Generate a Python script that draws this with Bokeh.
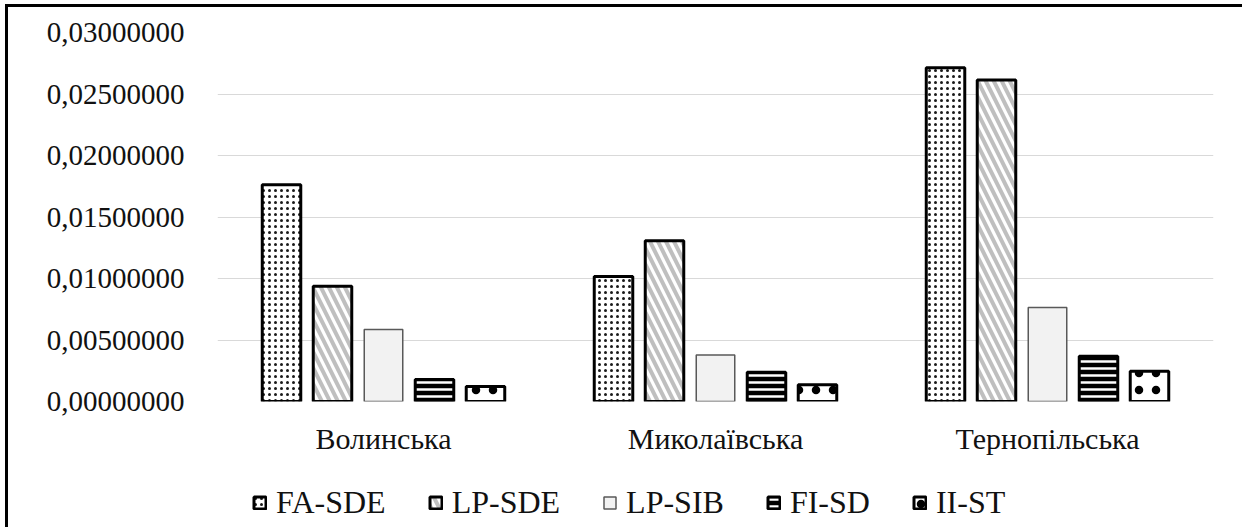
from bokeh.plotting import figure
from bokeh.layouts import column
from bokeh.models import (ColumnDataSource, FactorRange, Range1d, FixedTicker,
                          Legend, LegendItem, BoxAnnotation)
from bokeh.transform import dodge
from bokeh.embed import file_html
from bokeh.resources import INLINE

# Regions and the five indicator series
regions = ["Волинська", "Миколаївська", "Тернопільська"]
series_names = ["FA-SDE", "LP-SDE", "LP-SIB", "FI-SD", "II-ST"]
fa_sde = [0.01762, 0.01017, 0.02714]
lp_sde = [0.00936, 0.01307, 0.02614]
lp_sib = [0.00585, 0.00379, 0.00765]
fi_sd = [0.00178, 0.00237, 0.00367]
ii_st = [0.00121, 0.00137, 0.00245]

y_ticks = [0, 0.005, 0.01, 0.015, 0.02, 0.025, 0.03]
y_tick_labels = ["0,00000000", "0,00500000", "0,01000000", "0,01500000",
                 "0,02000000", "0,02500000", "0,03000000"]

source = ColumnDataSource(data={
    "region": regions,
    "FA-SDE": fa_sde,
    "LP-SDE": lp_sde,
    "LP-SIB": lp_sib,
    "FI-SD": fi_sd,
    "II-ST": ii_st,
})

SERIF = "Liberation Serif"
W = 1234

# Fill styles per series
styles = {
    "FA-SDE": dict(fill_color="white", hatch_pattern="dot",
                   hatch_color="#1a1a1a", hatch_scale=6, hatch_weight=2.8,
                   line_color="black", line_width=3),
    "LP-SDE": dict(fill_color="white", hatch_pattern="left_diagonal_line",
                   hatch_color="#bfbfbf", hatch_scale=16, hatch_weight=4,
                   line_color="black", line_width=3),
    "LP-SIB": dict(fill_color="#f2f2f2", line_color="#595959", line_width=1.5),
    "FI-SD": dict(fill_color="black", hatch_pattern="horizontal_line",
                  hatch_color="white", hatch_scale=7, hatch_weight=2.5,
                  line_color="black", line_width=3),
    "II-ST": dict(fill_color="white", hatch_pattern="dot",
                  hatch_color="black", hatch_scale=17, hatch_weight=4,
                  line_color="black", line_width=3),
}

step = 0.1536
bar_w = 0.116
offsets = [-2 * step, -step, 0, step, 2 * step]

# ---- main bar chart ----
p = figure(
    width=W, height=460,
    x_range=FactorRange(*regions),
    y_range=Range1d(0, 0.03),
    output_backend="svg",
    toolbar_location=None,
    min_border_left=209, min_border_right=29,
    min_border_top=25, min_border_bottom=66,
)
p.outline_line_color = None
p.background_fill_color = "white"
p.border_fill_color = "white"

for name, off in zip(series_names, offsets):
    p.vbar(x=dodge("region", off, range=p.x_range), top=name,
           width=bar_w, source=source, **styles[name])

p.yaxis.ticker = FixedTicker(ticks=y_ticks)
p.yaxis.major_label_overrides = dict(zip(y_ticks, y_tick_labels))
for ax in (p.xaxis, p.yaxis):
    ax.axis_line_color = None
    ax.major_tick_line_color = None
    ax.minor_tick_line_color = None
    ax.major_label_text_font = SERIF
    ax.major_label_text_color = "#111111"
p.yaxis.major_label_text_font_size = "29px"
p.xaxis.major_label_text_font_size = "30px"
p.yaxis.major_label_standoff = 27
p.xaxis.major_label_standoff = 14

p.xgrid.grid_line_color = None
p.ygrid.grid_line_color = "#d9d9d9"
p.ygrid.grid_line_width = 1

# ---- legend strip under the chart ----
lf = figure(
    width=W, height=60,
    x_range=FactorRange(*regions),
    y_range=Range1d(10, 11),
    output_backend="svg",
    toolbar_location=None,
    min_border=0,
)
lf.axis.visible = False
lf.grid.visible = False
lf.outline_line_color = None
lf.background_fill_color = "white"
lf.border_fill_color = "white"

# same bar styles, used only as legend keys (kept out of view)
key_renderers = []
for name, off in zip(series_names, offsets):
    r = lf.vbar(x=dodge("region", off, range=lf.x_range), top=name,
                width=bar_w, source=source, **styles[name])
    key_renderers.append(r)

# plain white backdrop for the legend row
lf.add_layout(BoxAnnotation(fill_color="white", fill_alpha=1.0, line_color=None))

legend = Legend(
    items=[LegendItem(label=n, renderers=[r]) for n, r in zip(series_names, key_renderers)],
    orientation="horizontal", location=(35, 6), padding=0, margin=0,
    spacing=42, border_line_color=None, background_fill_alpha=0,
    glyph_width=15, glyph_height=15, label_standoff=9,
    label_text_font=SERIF, label_text_font_size="32px",
    label_text_color="#111111",
)
lf.add_layout(legend, "center")

layout = column(p, lf, spacing=0)
layout.styles = {
    "margin-left": "5px", "margin-top": "4px",
    "border-left": "3px solid #000", "border-top": "3px solid #000",
}

open("out.html", "w").write(file_html(layout, INLINE))
